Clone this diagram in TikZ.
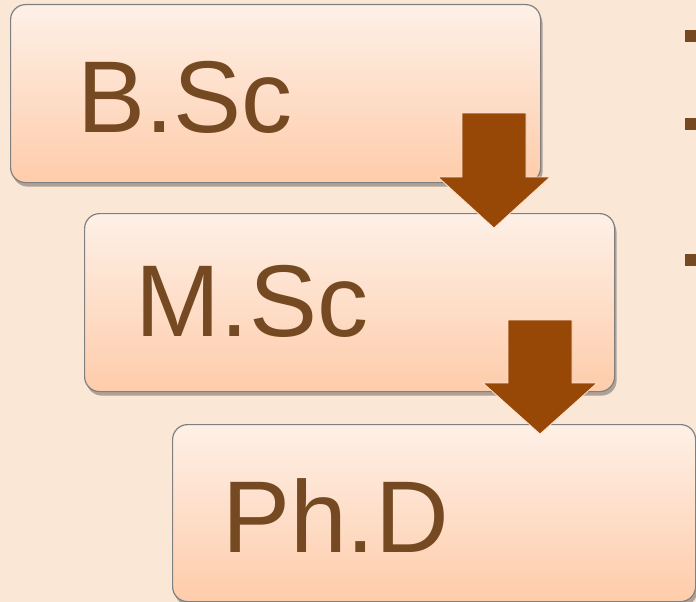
\documentclass[tikz,border=0pt]{standalone}
\usepackage{fontspec}
\setmainfont{Liberation Sans}
\usetikzlibrary{shadows}
\definecolor{bgpeach}{RGB}{251,231,214}
\definecolor{boxtop}{RGB}{254,240,231}
\definecolor{boxbot}{RGB}{254,204,170}
\definecolor{boxline}{RGB}{128,128,128}
\definecolor{txtbrown}{RGB}{117,74,34}
\definecolor{arrbrown}{RGB}{152,72,6}
\definecolor{arredge}{RGB}{255,226,210}
\tikzset{
  stagebox/.style={draw=boxline, line width=1.2pt, rounded corners=15pt,
    top color=boxtop, bottom color=boxbot, inner sep=0pt,
    minimum width=530pt, minimum height=178pt, anchor=north west,
    drop shadow={shadow xshift=2pt, shadow yshift=-4pt, opacity=0.3, fill=black}},
  stagelbl/.style={text=txtbrown, inner sep=0pt, anchor=base west,
    font=\fontsize{102}{102}\selectfont},
  blockarrow/.style={fill=arrbrown, draw=arredge, line width=0.8pt, line join=miter},
  bulletsq/.style={fill=txtbrown, draw=none}
}
\begin{document}
\begin{tikzpicture}[x=1pt,y=-1pt]
\fill[bgpeach] (0,0) rectangle (696,602);
\useasboundingbox (0,0) rectangle (696,602);
% boxes
\node[stagebox] (bsc) at (10,4) {};
\node[stagebox] (msc) at (84,213) {};
\node[stagebox, minimum width=523pt, minimum height=177pt] (phd) at (172,424) {};
% labels
\node[stagelbl] (tbsc) at (77,132) {B.Sc};
\node[stagelbl] (tmsc) at (135.5,336) {M.Sc};
\node[stagelbl] (tphd) at (222,552) {Ph.D};
% block arrows
\draw[blockarrow] (462,113) -- (526,113) -- (526,177) -- (550,177) -- (494,228)
  -- (438,177) -- (462,177) -- cycle;
\draw[blockarrow] (508,320) -- (572,320) -- (572,383) -- (597,383) -- (540,434)
  -- (483,383) -- (508,383) -- cycle;
% cut-off bullets at the right edge
\fill[bulletsq] (685,30) rectangle (697,42);
\fill[bulletsq] (685,118) rectangle (697,130);
\fill[bulletsq] (685,254) rectangle (697,266);
\end{tikzpicture}
\end{document}
